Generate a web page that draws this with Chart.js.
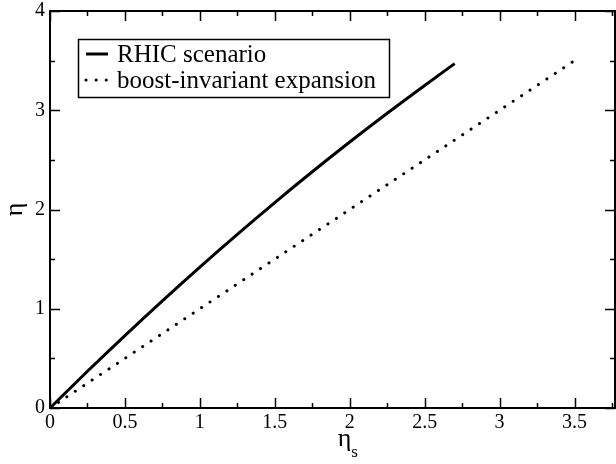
<!DOCTYPE html>
<html>
<head>
<meta charset="utf-8">
<script src="https://cdn.jsdelivr.net/npm/chart.js@4"></script>
<style>
html, body { margin: 0; padding: 0; background: #fff; }
#wrap { width: 616px; height: 464px; }
</style>
</head>
<body>
<div id="wrap"><canvas id="chart" width="616" height="464"></canvas></div>
<script>
const rhicX = [0, 0.25, 0.5, 0.75, 1, 1.25, 1.5, 1.75, 2, 2.25, 2.5, 2.7];
const rhicY = [0, 0.37, 0.73, 1.08, 1.42, 1.75, 2.07, 2.38, 2.68, 2.97, 3.25, 3.47];
const boostX = [0, 3.5];
const boostY = [0, 3.5];

const xTicks = [0, 0.5, 1, 1.5, 2, 2.5, 3, 3.5];
const xMinor = [0.25, 0.75, 1.25, 1.75, 2.25, 2.75, 3.25, 3.75];
const yTicks = [0, 1, 2, 3, 4];
const yMinor = [0.5, 1.5, 2.5, 3.5];

const serif = "'Liberation Serif', 'DejaVu Serif', serif";

function toPoints(xs, ys) {
    return xs.map((x, i) => ({ x: x, y: ys[i] }));
}

// frame and inward ticks, xmgrace style
const framePlugin = {
    id: 'frame',
    afterDraw(chart) {
        const ctx = chart.ctx;
        const a = chart.chartArea;
        const xs = chart.scales.x;
        const ys = chart.scales.y;
        ctx.save();
        ctx.strokeStyle = '#000';
        ctx.lineWidth = 2;
        ctx.strokeRect(a.left, a.top, a.right - a.left, a.bottom - a.top);
        ctx.lineWidth = 1.5;
        ctx.beginPath();
        const tickX = (vals, len) => vals.forEach(v => {
            const p = Math.round(xs.getPixelForValue(v)) + 0.5;
            ctx.moveTo(p, a.bottom); ctx.lineTo(p, a.bottom - len);
            ctx.moveTo(p, a.top); ctx.lineTo(p, a.top + len);
        });
        const tickY = (vals, len) => vals.forEach(v => {
            const p = Math.round(ys.getPixelForValue(v)) + 0.5;
            ctx.moveTo(a.left, p); ctx.lineTo(a.left + len, p);
            ctx.moveTo(a.right, p); ctx.lineTo(a.right - len, p);
        });
        tickX(xTicks, 10); tickX(xMinor, 5);
        tickY(yTicks, 10); tickY(yMinor, 5);
        ctx.stroke();

        // axis titles
        ctx.fillStyle = '#000';
        ctx.textAlign = 'center';
        ctx.textBaseline = 'alphabetic';
        ctx.font = '26px ' + serif;
        ctx.save();
        ctx.translate(22, (a.top + a.bottom) / 2);
        ctx.rotate(-Math.PI / 2);
        ctx.fillText('η', 0, 0);
        ctx.restore();

        const cx = (a.left + a.right) / 2 + 16;
        ctx.textAlign = 'left';
        const w = ctx.measureText('η').width;
        ctx.fillText('η', cx - w / 2 - 4, 446);
        ctx.font = '17px ' + serif;
        ctx.fillText('s', cx + w / 2 - 4, 457);
        ctx.restore();
    }
};

// legend box inside the plot
const legendPlugin = {
    id: 'insideLegend',
    afterDraw(chart) {
        const ctx = chart.ctx;
        const box = { left: 78, top: 39, width: 311, height: 58 };
        ctx.save();
        ctx.strokeStyle = '#000';
        ctx.lineWidth = 1.5;
        ctx.strokeRect(box.left + 0.5, box.top + 0.5, box.width, box.height);
        ctx.font = '25px ' + serif;
        ctx.fillStyle = '#000';
        ctx.textBaseline = 'middle';
        chart.data.datasets.forEach((ds, i) => {
            const y = box.top + 15 + i * 26;
            ctx.beginPath();
            ctx.lineWidth = ds.borderWidth;
            ctx.lineCap = ds.borderCapStyle || 'butt';
            ctx.setLineDash(ds.borderDash || []);
            ctx.moveTo(86, y);
            ctx.lineTo(108, y);
            ctx.stroke();
            ctx.setLineDash([]);
            ctx.fillText(ds.label, 117, y + 1);
        });
        ctx.restore();
    }
};

new Chart(document.getElementById('chart'), {
    type: 'scatter',
    data: {
        datasets: [
            {
                label: 'RHIC scenario',
                data: toPoints(rhicX, rhicY),
                showLine: true,
                borderColor: '#000',
                borderWidth: 3,
                pointRadius: 0,
                cubicInterpolationMode: 'monotone'
            },
            {
                label: 'boost-invariant expansion',
                data: toPoints(boostX, boostY),
                showLine: true,
                borderColor: '#000',
                borderWidth: 3,
                borderDash: [0.1, 10],
                borderCapStyle: 'round',
                pointRadius: 0
            }
        ]
    },
    options: {
        responsive: false,
        animation: false,
        layout: { padding: { top: 11, right: 1, left: 0, bottom: 0 } },
        plugins: {
            legend: { display: false },
            tooltip: { enabled: false }
        },
        scales: {
            x: {
                type: 'linear',
                min: 0,
                max: 3.77,
                afterBuildTicks: s => { s.ticks = xTicks.map(v => ({ value: v })); },
                afterFit: s => { s.height = 56; s.paddingLeft = 0; s.paddingRight = 0; },
                grid: { display: false, drawTicks: false },
                border: { display: false },
                ticks: {
                    color: '#000',
                    padding: 3,
                    maxRotation: 0,
                    autoSkip: false,
                    font: { family: serif, size: 20 },
                    callback: v => String(v)
                }
            },
            y: {
                type: 'linear',
                min: 0,
                max: 4,
                afterBuildTicks: s => { s.ticks = yTicks.map(v => ({ value: v })); },
                afterFit: s => { s.width = 50; s.paddingTop = 0; s.paddingBottom = 0; },
                grid: { display: false, drawTicks: false },
                border: { display: false },
                ticks: {
                    color: '#000',
                    padding: 5,
                    font: { family: serif, size: 20 },
                    callback: v => String(v)
                }
            }
        }
    },
    plugins: [framePlugin, legendPlugin]
});
</script>
</body>
</html>
